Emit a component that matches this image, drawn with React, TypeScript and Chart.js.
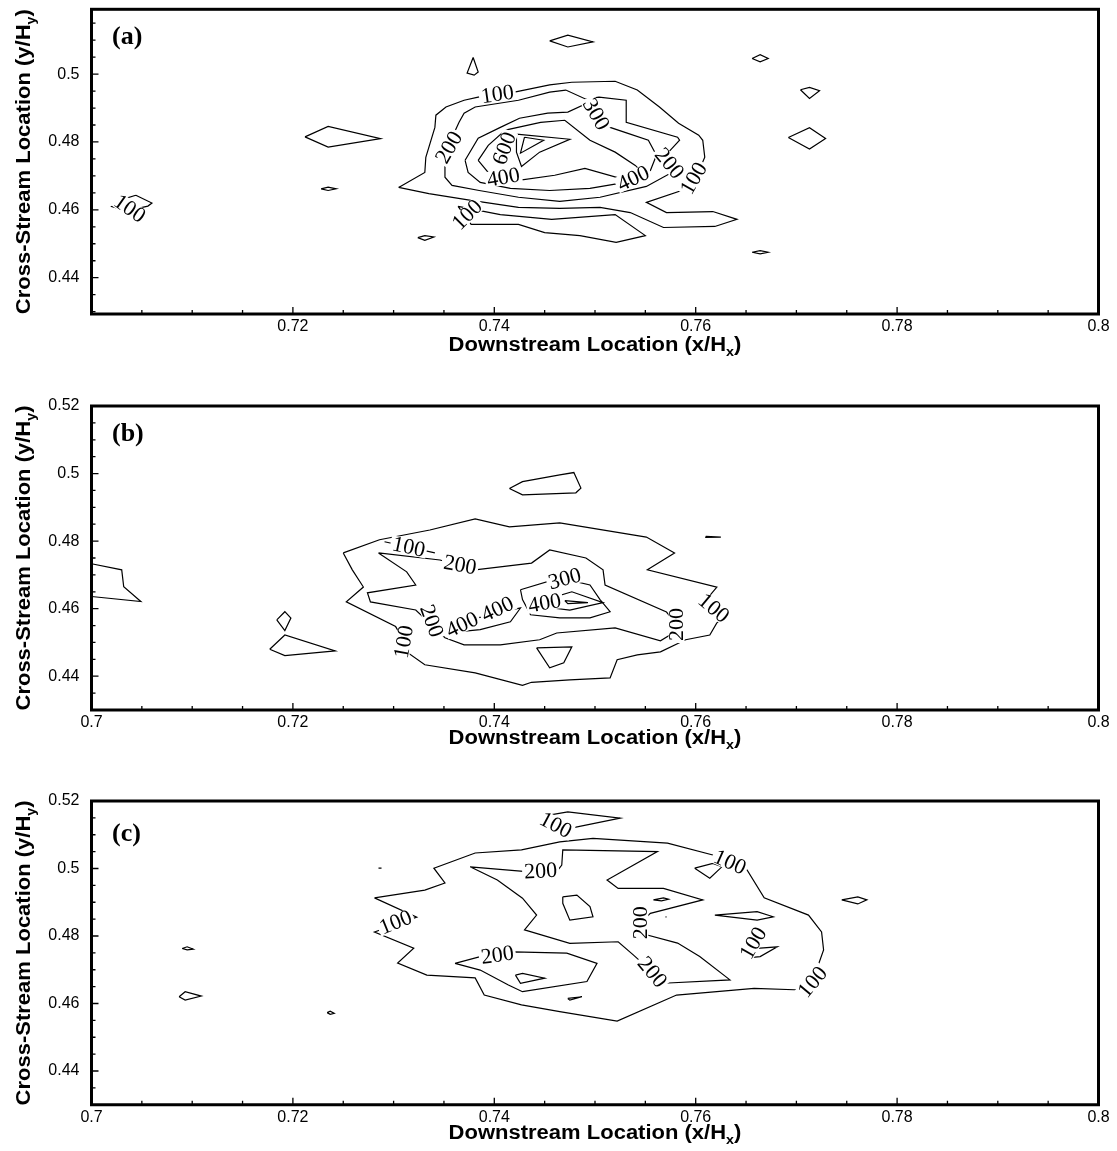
import React, { useEffect, useRef } from "react";
import { Chart, registerables } from "chart.js";

Chart.register(...registerables);

type Pt = [number, number];
type Label = [string, number, number, number];

// ---------- axis ticks ----------
const X_TICKS = [0.7, 0.72, 0.74, 0.76, 0.78, 0.8];
const Y_TICKS_A = [0.44, 0.46, 0.48, 0.5];
const Y_TICKS_BC = [0.44, 0.46, 0.48, 0.5, 0.52];
const MINOR_STEP = 0.005;

// ---------- panel (a) contours ----------
const A_100_OUTER: Pt[] = [[0.7305,0.4666],[0.7331,0.4710],[0.7332,0.4755],[0.7341,0.4843],[0.7342,0.4879],[0.7352,0.4903],[0.7370,0.4923],[0.7384,0.4932],[0.7420,0.4947],[0.7455,0.4968],[0.7477,0.4976],[0.7520,0.4979],[0.7542,0.4953],[0.7564,0.4903],[0.7583,0.4855],[0.7603,0.4820],[0.7607,0.4805],[0.7609,0.4755],[0.7601,0.4699],[0.7586,0.4657],[0.7551,0.4622],[0.7571,0.4592],[0.7617,0.4595],[0.7641,0.4572],[0.7619,0.4551],[0.7568,0.4548],[0.7535,0.4592],[0.7505,0.4607],[0.7465,0.4604],[0.7424,0.4607],[0.7377,0.4628],[0.7335,0.4648]];
const A_100_LOWER: Pt[] = [[0.7364,0.4610],[0.7377,0.4557],[0.7424,0.4557],[0.7450,0.4533],[0.7485,0.4524],[0.7521,0.4504],[0.7550,0.4524],[0.7520,0.4586],[0.7457,0.4572],[0.7406,0.4586]];
const A_200: Pt[] = [[0.7351,0.4737],[0.7353,0.4781],[0.7365,0.4858],[0.7370,0.4885],[0.7381,0.4903],[0.7424,0.4923],[0.7455,0.4947],[0.7471,0.4953],[0.7491,0.4926],[0.7504,0.4932],[0.7531,0.4923],[0.7531,0.4858],[0.7582,0.4814],[0.7584,0.4805],[0.7573,0.4770],[0.7575,0.4708],[0.7551,0.4669],[0.7505,0.4637],[0.7465,0.4625],[0.7424,0.4637],[0.7385,0.4657],[0.7358,0.4672],[0.7351,0.4696]];
const A_300: Pt[] = [[0.7371,0.4746],[0.7384,0.4811],[0.7406,0.4843],[0.7425,0.4870],[0.7453,0.4885],[0.7473,0.4888],[0.7490,0.4911],[0.7515,0.4843],[0.7532,0.4826],[0.7553,0.4805],[0.7561,0.4761],[0.7555,0.4716],[0.7530,0.4681],[0.7495,0.4663],[0.7455,0.4657],[0.7416,0.4663],[0.7386,0.4681],[0.7374,0.4710]];
const A_400: Pt[] = [[0.7384,0.4746],[0.7394,0.4790],[0.7411,0.4835],[0.7446,0.4858],[0.7470,0.4864],[0.7495,0.4805],[0.7520,0.4770],[0.7540,0.4731],[0.7550,0.4702],[0.7525,0.4693],[0.7490,0.4722],[0.7460,0.4702],[0.7424,0.4687],[0.7397,0.4699]];
const A_500: Pt[] = [[0.7422,0.4823],[0.7475,0.4808],[0.7445,0.4770],[0.7427,0.4728],[0.7422,0.4770]];
const A_600: Pt[] = [[0.7430,0.4814],[0.7449,0.4805],[0.7426,0.4767]];
const A_ISLANDS: Pt[][] = [
  [[0.7212,0.4815],[0.7235,0.4846],[0.7287,0.4810],[0.7235,0.4785]],
  [[0.7228,0.4662],[0.7235,0.4667],[0.7243,0.4662],[0.7235,0.4657]],
  [[0.7044,0.4643],[0.7060,0.4620],[0.7056,0.4611],[0.7035,0.4597],[0.7020,0.4610],[0.7030,0.4630]],
  [[0.7324,0.4518],[0.7331,0.4524],[0.7340,0.4520],[0.7331,0.4510]],
  [[0.7379,0.5049],[0.7384,0.5006],[0.7380,0.4997],[0.7373,0.5003]],
  [[0.7455,0.5098],[0.7473,0.5115],[0.7498,0.5095],[0.7473,0.5080]],
  [[0.7656,0.5046],[0.7664,0.5057],[0.7672,0.5046],[0.7664,0.5036]],
  [[0.7704,0.4954],[0.7713,0.4961],[0.7723,0.4951],[0.7713,0.4928]],
  [[0.7692,0.4813],[0.7713,0.4842],[0.7729,0.4810],[0.7713,0.4779]],
  [[0.7656,0.4475],[0.7664,0.4480],[0.7672,0.4475],[0.7664,0.4470]],
];
const A_LABELS: Label[] = [
  ["100",0.7403,0.4941,-8],["100",0.7598,0.4693,-60],["100",0.7373,0.4586,-45],["100",0.7038,0.4604,35],
  ["200",0.7355,0.4784,-60],["200",0.7574,0.4737,50],["300",0.7501,0.4882,60],
  ["400",0.7409,0.4696,-10],["400",0.7538,0.4693,-25],["600",0.7410,0.4781,-70],
];

// ---------- panel (b) contours ----------
const B_100: Pt[] = [[0.7250,0.4765],[0.7286,0.4804],[0.7336,0.4833],[0.7381,0.4866],[0.7415,0.4842],[0.7465,0.4854],[0.7551,0.4812],[0.7579,0.4765],[0.7552,0.4715],[0.7621,0.4664],[0.7612,0.4632],[0.7630,0.4576],[0.7621,0.4558],[0.7614,0.4522],[0.7590,0.4508],[0.7565,0.4472],[0.7542,0.4463],[0.7522,0.4449],[0.7515,0.4395],[0.7475,0.4389],[0.7437,0.4382],[0.7428,0.4373],[0.7381,0.4410],[0.7331,0.4434],[0.7313,0.4472],[0.7308,0.4517],[0.7302,0.4547],[0.7253,0.4620],[0.7270,0.4664],[0.7259,0.4715]];
const B_200: Pt[] = [[0.7285,0.4765],[0.7313,0.4709],[0.7322,0.4670],[0.7274,0.4647],[0.7277,0.4620],[0.7322,0.4596],[0.7351,0.4514],[0.7370,0.4493],[0.7406,0.4493],[0.7445,0.4508],[0.7462,0.4528],[0.7520,0.4543],[0.7565,0.4505],[0.7576,0.4525],[0.7581,0.4553],[0.7571,0.4590],[0.7510,0.4670],[0.7508,0.4715],[0.7491,0.4750],[0.7455,0.4774],[0.7437,0.4735],[0.7381,0.4715],[0.7346,0.4744]];
const B_300: Pt[] = [[0.7426,0.4656],[0.7465,0.4691],[0.7495,0.4670],[0.7505,0.4627],[0.7515,0.4591],[0.7495,0.4573],[0.7465,0.4573],[0.7436,0.4582],[0.7428,0.4627]];
const B_300_LOW: Pt[] = [[0.7442,0.4484],[0.7477,0.4487],[0.7469,0.4440],[0.7455,0.4425]];
const B_400_LEFT: Pt[] = [[0.7361,0.4544],[0.7376,0.4567],[0.7406,0.4590],[0.7426,0.4602],[0.7416,0.4561],[0.7386,0.4538],[0.7366,0.4532]];
const B_400_RIGHT: Pt[] = [[0.7457,0.4632],[0.7477,0.4650],[0.7508,0.4618],[0.7475,0.4596],[0.7458,0.4602]];
const B_500: Pt[] = [[0.7470,0.4624],[0.7493,0.4618],[0.7473,0.4615]];
const B_ISLANDS: Pt[][] = [
  [[0.7184,0.4567],[0.7192,0.4591],[0.7198,0.4572],[0.7192,0.4535]],
  [[0.7177,0.4480],[0.7192,0.4522],[0.7242,0.4475],[0.7192,0.4461]],
  [[0.7415,0.4956],[0.7428,0.4976],[0.7465,0.4996],[0.7479,0.5003],[0.7486,0.4957],[0.7481,0.4943],[0.7428,0.4937]],
  [[0.7610,0.4814],[0.7625,0.4812],[0.7610,0.4811]],
];
const B_OPEN: Pt[][] = [
  [[0.7000,0.4733],[0.7030,0.4715],[0.7032,0.4665],[0.7049,0.4621],[0.7000,0.4636]],
  [[0.7291,0.4798],[0.7341,0.4765]],
];
const B_LABELS: Label[] = [
  ["100",0.7315,0.4783,12],["200",0.7366,0.4730,10],["300",0.7470,0.4689,-15],
  ["400",0.7403,0.4599,-25],["400",0.7368,0.4553,-25],["400",0.7450,0.4617,-10],
  ["100",0.7618,0.4602,40],["200",0.7581,0.4553,-90],["200",0.7338,0.4564,70],["100",0.7310,0.4502,-80],
];

// ---------- panel (c) contours ----------
const C_100: Pt[] = [[0.7281,0.4913],[0.7331,0.4936],[0.7351,0.4957],[0.7340,0.5001],[0.7381,0.5046],[0.7427,0.5055],[0.7465,0.5079],[0.7498,0.5089],[0.7572,0.5075],[0.7617,0.5040],[0.7651,0.4996],[0.7668,0.4913],[0.7712,0.4862],[0.7725,0.4812],[0.7727,0.4759],[0.7721,0.4708],[0.7725,0.4670],[0.7705,0.4640],[0.7658,0.4645],[0.7581,0.4625],[0.7522,0.4548],[0.7465,0.4576],[0.7427,0.4596],[0.7390,0.4625],[0.7381,0.4676],[0.7333,0.4684],[0.7304,0.4720],[0.7320,0.4764],[0.7281,0.4812],[0.7323,0.4856]];
const C_100_TOP: Pt[] = [[0.7450,0.5156],[0.7473,0.5168],[0.7525,0.5149],[0.7475,0.5119],[0.7453,0.5125]];
const C_200_UPPER: Pt[] = [[0.7376,0.5005],[0.7432,0.4991],[0.7462,0.4991],[0.7467,0.5010],[0.7468,0.5055],[0.7562,0.5050],[0.7512,0.4966],[0.7523,0.4941],[0.7568,0.4941],[0.7607,0.4907],[0.7555,0.4867],[0.7545,0.4839],[0.7552,0.4803],[0.7582,0.4779],[0.7604,0.4739],[0.7634,0.4670],[0.7568,0.4660],[0.7557,0.4693],[0.7538,0.4744],[0.7523,0.4783],[0.7475,0.4778],[0.7430,0.4818],[0.7442,0.4862],[0.7428,0.4912],[0.7403,0.4966]];
const C_200_LOWER: Pt[] = [[0.7361,0.4719],[0.7386,0.4739],[0.7419,0.4753],[0.7472,0.4749],[0.7502,0.4719],[0.7492,0.4665],[0.7428,0.4635],[0.7414,0.4655],[0.7386,0.4699]];
const C_300: Pt[] = [[0.7421,0.4684],[0.7428,0.4689],[0.7450,0.4675],[0.7426,0.4660]];
const C_ISLANDS: Pt[][] = [
  [[0.7468,0.4916],[0.7482,0.4921],[0.7495,0.4887],[0.7498,0.4857],[0.7475,0.4847],[0.7468,0.4897]],
  [[0.7558,0.4907],[0.7568,0.4913],[0.7573,0.4909],[0.7566,0.4904]],
  [[0.7599,0.5001],[0.7617,0.5015],[0.7626,0.5005],[0.7614,0.4971]],
  [[0.7619,0.4862],[0.7661,0.4872],[0.7677,0.4857],[0.7661,0.4847]],
  [[0.7652,0.4759],[0.7664,0.4764],[0.7681,0.4768],[0.7664,0.4739],[0.7654,0.4736]],
  [[0.7473,0.4615],[0.7487,0.4620],[0.7475,0.4610]],
  [[0.7745,0.4907],[0.7761,0.4916],[0.7770,0.4907],[0.7761,0.4895]],
  [[0.7090,0.4763],[0.7095,0.4768],[0.7101,0.4761],[0.7095,0.4759]],
  [[0.7087,0.4620],[0.7093,0.4635],[0.7109,0.4622],[0.7093,0.4610]],
  [[0.7234,0.4573],[0.7237,0.4577],[0.7241,0.4571],[0.7237,0.4568]],
];
const C_OPEN: Pt[][] = [
  [[0.7285,0.5001],[0.7288,0.5001]],
  [[0.7570,0.4857],[0.7571,0.4856]],
];
const C_LABELS: Label[] = [
  ["100",0.7461,0.5129,28],["100",0.7634,0.5019,24],["100",0.7716,0.4664,-50],["100",0.7302,0.4841,-22],["100",0.7657,0.4779,-60],
  ["200",0.7446,0.4993,-3],["200",0.7545,0.4839,-90],["200",0.7557,0.4693,50],["200",0.7403,0.4744,-8],
];

const X_TITLE = "Downstream Location (x/H";
const Y_TITLE = "Cross-Stream Location (y/H";

interface Panel {
  letter: string;
  top: number;
  height: number;
  padTop: number;
  xAxisHeight: number;
  yMin: number;
  yMax: number;
  yTicks: number[];
  hideX0: boolean;
  closed: Pt[][];
  open: Pt[][];
  labels: Label[];
  titleOffset: number;
  letterOffset: number;
}

const PANELS: Panel[] = [
  { letter: "(a)", top: 0, height: 385, padTop: 9.3, xAxisHeight: 71, yMin: 0.4293, yMax: 0.5191, yTicks: Y_TICKS_A, hideX0: true,
    closed: [A_100_OUTER, A_100_LOWER, A_200, A_300, A_400, A_500, A_600, ...A_ISLANDS], open: [], labels: A_LABELS, titleOffset: 37, letterOffset: 35 },
  { letter: "(b)", top: 385, height: 395, padTop: 21, xAxisHeight: 70, yMin: 0.43, yMax: 0.52, yTicks: Y_TICKS_BC, hideX0: false,
    closed: [B_100, B_200, B_300, B_300_LOW, B_400_LEFT, B_400_RIGHT, B_500, ...B_ISLANDS], open: B_OPEN, labels: B_LABELS, titleOffset: 34, letterOffset: 35 },
  { letter: "(c)", top: 780, height: 371, padTop: 21, xAxisHeight: 46.25, yMin: 0.43, yMax: 0.52, yTicks: Y_TICKS_BC, hideX0: false,
    closed: [C_100, C_100_TOP, C_200_UPPER, C_200_LOWER, C_300, ...C_ISLANDS], open: C_OPEN, labels: C_LABELS, titleOffset: 34, letterOffset: 40 },
];

const SANS = '"Liberation Sans", Arial, Helvetica, sans-serif';
const SERIF = '"Liberation Serif", "Times New Roman", Times, serif';

function drawTitle(ctx: CanvasRenderingContext2D, cx: number, cy: number, rot: number, main: string, sub: string) {
  ctx.save();
  ctx.translate(cx, cy);
  ctx.rotate(rot);
  ctx.scale(1.1, 1);
  const fMain = `bold 20px ${SANS}`;
  const fSub = `bold 13px ${SANS}`;
  ctx.font = fMain;
  const w1 = ctx.measureText(main).width;
  const w3 = ctx.measureText(")").width;
  ctx.font = fSub;
  const w2 = ctx.measureText(sub).width;
  let x = -(w1 + w2 + w3) / 2;
  ctx.fillStyle = "#000";
  ctx.textAlign = "left";
  ctx.textBaseline = "alphabetic";
  ctx.font = fMain;
  ctx.fillText(main, x, 0);
  x += w1;
  ctx.font = fSub;
  ctx.fillText(sub, x, 5);
  x += w2;
  ctx.font = fMain;
  ctx.fillText(")", x, 0);
  ctx.restore();
}

function makeDecor(p: Panel) {
  return {
    id: "decor",
    afterDatasetsDraw(chart: any) {
      const ctx: CanvasRenderingContext2D = chart.ctx;
      const xs = chart.scales.x;
      const ys = chart.scales.y;
      const a = chart.chartArea;
      ctx.save();
      ctx.beginPath();
      ctx.rect(a.left, a.top, a.right - a.left, a.bottom - a.top);
      ctx.clip();
      ctx.font = `22px ${SERIF}`;
      for (const [t, x, y, r] of p.labels) {
        const px = xs.getPixelForValue(x);
        const py = ys.getPixelForValue(y);
        ctx.save();
        ctx.translate(px, py);
        ctx.rotate((r * Math.PI) / 180);
        const w = ctx.measureText(t).width;
        ctx.fillStyle = "#fff";
        ctx.fillRect(-w / 2 - 2, -8, w + 4, 16);
        ctx.fillStyle = "#000";
        ctx.textAlign = "center";
        ctx.textBaseline = "middle";
        ctx.fillText(t, 0, 1);
        ctx.restore();
      }
      ctx.restore();
    },
    afterDraw(chart: any) {
      const ctx: CanvasRenderingContext2D = chart.ctx;
      const xs = chart.scales.x;
      const ys = chart.scales.y;
      const a = chart.chartArea;
      ctx.save();
      ctx.strokeStyle = "#000";
      ctx.lineWidth = 1.3;
      ctx.beginPath();
      for (let v = 0.7; v <= 0.8 + 1e-9; v += MINOR_STEP) {
        const major = X_TICKS.some((t) => Math.abs(t - v) < 1e-6);
        const px = xs.getPixelForValue(v);
        ctx.moveTo(px, a.bottom);
        ctx.lineTo(px, a.bottom - (major ? 7 : 4));
      }
      for (let v = 0.43; v <= p.yMax + 1e-9; v += MINOR_STEP) {
        if (v < p.yMin - 1e-9) continue;
        const major = Y_TICKS_BC.some((t) => Math.abs(t - v) < 1e-6);
        const py = ys.getPixelForValue(v);
        ctx.moveTo(a.left, py);
        ctx.lineTo(a.left + (major ? 7 : 4), py);
      }
      ctx.stroke();
      ctx.lineWidth = 3;
      ctx.strokeRect(a.left, a.top, a.right - a.left, a.bottom - a.top);
      ctx.fillStyle = "#000";
      ctx.font = `bold 26px ${SERIF}`;
      ctx.textAlign = "left";
      ctx.textBaseline = "alphabetic";
      ctx.fillText(p.letter, a.left + 20.5, a.top + p.letterOffset);
      ctx.restore();
      drawTitle(ctx, (a.left + a.right) / 2, a.bottom + p.titleOffset, 0, X_TITLE, "x");
      drawTitle(ctx, 30, (a.top + a.bottom) / 2, -Math.PI / 2, Y_TITLE, "y");
    },
  };
}

function toData(pts: Pt[], closed: boolean) {
  const d = pts.map(([x, y]) => ({ x, y }));
  if (closed) d.push({ x: pts[0][0], y: pts[0][1] });
  return d;
}

function PanelChart({ p }: { p: Panel }) {
  const ref = useRef<HTMLCanvasElement>(null);
  useEffect(() => {
    const datasets = [
      ...p.closed.map((c) => toData(c, true)),
      ...p.open.map((c) => toData(c, false)),
    ].map((data) => ({
      data,
      showLine: true,
      borderColor: "#000",
      borderWidth: 1.2,
      pointRadius: 0,
      pointHoverRadius: 0,
      fill: false,
      tension: 0,
    }));
    const chart = new Chart(ref.current as HTMLCanvasElement, {
      type: "scatter",
      data: { datasets },
      options: {
        responsive: false,
        maintainAspectRatio: false,
        animation: false,
        devicePixelRatio: 1,
        events: [],
        layout: { padding: { top: p.padTop, left: 0, right: 18.5, bottom: 0 } },
        plugins: { legend: { display: false }, tooltip: { enabled: false } },
        scales: {
          x: {
            type: "linear",
            min: 0.7,
            max: 0.8,
            afterBuildTicks: (s: any) => {
              s.ticks = X_TICKS.map((v) => ({ value: v }));
            },
            afterFit: (s: any) => {
              s.height = p.xAxisHeight;
              s.paddingLeft = 0;
              s.paddingRight = 0;
            },
            grid: { display: false, drawTicks: false },
            border: { display: false },
            ticks: {
              padding: 3,
              color: "#000",
              autoSkip: false,
              maxRotation: 0,
              font: { family: SANS, size: 16 },
              callback: (v: any) => (p.hideX0 && Math.abs(v - 0.7) < 1e-9 ? "" : String(v)),
            },
          },
          y: {
            type: "linear",
            min: p.yMin,
            max: p.yMax,
            afterBuildTicks: (s: any) => {
              s.ticks = p.yTicks.map((v) => ({ value: v }));
            },
            afterFit: (s: any) => {
              s.width = 91.5;
              s.paddingTop = 0;
              s.paddingBottom = 0;
            },
            grid: { display: false, drawTicks: false },
            border: { display: false },
            ticks: {
              padding: 12,
              color: "#000",
              autoSkip: false,
              font: { family: SANS, size: 16 },
              callback: (v: any) => String(v),
            },
          },
        },
      },
      plugins: [makeDecor(p)],
    } as any);
    return () => chart.destroy();
  }, [p]);
  return (
    <canvas
      ref={ref}
      width={1117}
      height={p.height}
      style={{ position: "absolute", left: 0, top: p.top, width: 1117, height: p.height }}
    />
  );
}

export default function App() {
  return (
    <div style={{ position: "absolute", left: 0, top: 0, width: 1117, height: 1151, overflow: "hidden", background: "#fff" }}>
      {PANELS.map((p) => (
        <PanelChart key={p.letter} p={p} />
      ))}
    </div>
  );
}
